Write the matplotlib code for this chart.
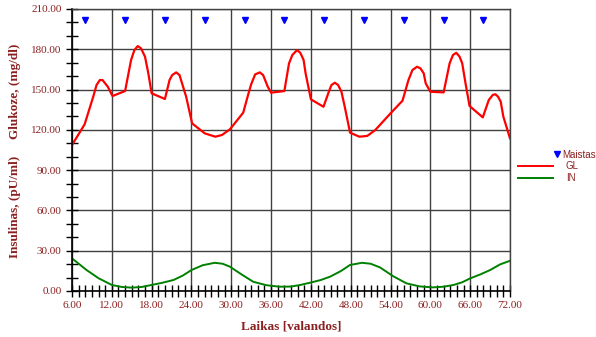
import matplotlib.pyplot as plt
from matplotlib.lines import Line2D
from matplotlib.ticker import MultipleLocator, FormatStrFormatter

# glucose (GL), mg/dl
gl_t = [6.0, 7.9, 9.2, 9.7, 10.2, 10.6, 11.4, 12.1, 14.0, 14.9, 15.4, 15.9,
        16.4, 17.0, 17.5, 18.0, 20.0, 20.7, 21.1, 21.7, 22.2, 23.2, 24.1,
        26.0, 27.6, 28.6, 29.8, 31.8, 32.6, 33.0, 33.6, 34.3, 34.8, 35.5,
        36.0, 38.0, 38.7, 39.2, 39.9, 40.4, 40.9, 41.2, 42.0, 43.9, 44.7,
        45.1, 45.6, 46.1, 46.6, 47.1, 47.9, 49.3, 50.5, 51.7, 54.0, 55.8,
        56.7, 57.3, 58.0, 58.5, 59.0, 59.3, 60.0, 62.0, 62.9, 63.4, 63.9,
        64.4, 64.8, 65.3, 65.9, 67.9, 68.8, 69.4, 69.8, 70.2, 70.6, 71.0,
        72.0]
gl_v = [108.7, 124.1, 144.7, 153.4, 157.1, 157.1, 152.1, 145.2, 148.9, 172.0,
        179.4, 182.4, 180.7, 174.5, 162.1, 147.2, 143.0, 157.1, 160.8, 162.8,
        160.8, 144.7, 124.8, 117.4, 114.9, 116.2, 120.4, 132.8, 147.2, 154.0,
        161.3, 162.8, 160.8, 152.1, 147.7, 148.9, 169.5, 175.7, 179.4, 177.4,
        172.0, 162.1, 142.7, 137.2, 148.4, 153.4, 155.1, 153.4, 148.4, 137.2,
        117.9, 114.9, 115.5, 119.9, 132.3, 141.7, 157.1, 164.6, 167.0, 165.8,
        162.1, 154.6, 148.4, 147.9, 169.5, 175.7, 177.4, 174.5, 169.5, 154.6,
        137.8, 129.3, 142.2, 146.0, 146.5, 144.7, 141.0, 129.8, 113.7]

# insulin (IN), pU/ml
in_t = [6.0, 8.2, 10.0, 12.0, 13.5, 15.0, 16.5, 18.0, 19.5, 21.3, 22.7, 24.0,
        25.7, 27.5, 28.7, 29.8, 31.5, 33.3, 35.3, 37.3, 39.0, 40.4, 41.9, 43.5,
        44.9, 46.5, 47.9, 49.7, 51.0, 52.4, 54.4, 56.4, 58.4, 60.4, 62.0, 63.5,
        64.8, 66.0, 67.5, 69.0, 70.5, 72.0]
in_v = [24.3, 15.6, 9.5, 4.5, 3.0, 2.5, 3.0, 4.5, 6.0, 8.2, 11.5, 15.6,
        19.2, 21.0, 20.3, 18.1, 12.5, 6.9, 4.3, 3.2, 3.3, 4.5, 6.2, 8.2,
        10.7, 14.8, 19.4, 21.0, 20.3, 17.6, 11.0, 5.7, 3.4, 2.7, 3.2, 4.5,
        6.5, 9.4, 12.3, 15.6, 19.8, 22.5]

# meals (Maistas)
meal_t = [8, 14, 20, 26, 32, 38, 44, 50, 56, 62, 68]
meal_v = [202] * len(meal_t)

dark_red = '#8b2020'
grid_col = '#404040'

fig = plt.figure(figsize=(5.96, 3.37), dpi=100)
ax = fig.add_axes([72 / 596, 1 - 291 / 337, 438 / 596, 282 / 337])

ax.plot(gl_t, gl_v, color='#ff0000', lw=1.6)
ax.plot(in_t, in_v, color='#008000', lw=1.4)
ax.plot(meal_t, meal_v, linestyle='none', marker='v', color='#0000ff',
        markersize=5)

ax.set_xlim(6, 72)
ax.set_ylim(0, 210)
ax.xaxis.set_major_locator(MultipleLocator(6))
ax.xaxis.set_minor_locator(MultipleLocator(1))
ax.yaxis.set_major_locator(MultipleLocator(30))
ax.yaxis.set_minor_locator(MultipleLocator(10))
ax.xaxis.set_major_formatter(FormatStrFormatter('%.2f'))
ax.yaxis.set_major_formatter(FormatStrFormatter('%.2f'))

ax.grid(True, which='major', color=grid_col, lw=1)
ax.set_axisbelow(True)
ax.tick_params(which='both', direction='inout', length=8, width=1,
               color='black', labelcolor=dark_red, labelsize=8,
               top=False, right=False)
for lab in ax.get_xticklabels() + ax.get_yticklabels():
    lab.set_family('Liberation Serif')
ax.tick_params(axis='x', pad=3)

for side in ['top', 'right']:
    ax.spines[side].set_color(grid_col)
    ax.spines[side].set_linewidth(1)
for side in ['left', 'bottom']:
    ax.spines[side].set_color('black')
    ax.spines[side].set_linewidth(1.2)

serif = dict(family='Liberation Serif', weight='bold', color=dark_red,
             fontsize=9.5)
ax.set_xlabel('Laikas [valandos]', labelpad=8, **serif)
fig.text(15 / 596, 1 - 91 / 337, 'Glukoze, (mg/dl)', rotation=90,
         ha='center', va='center', **serif)
fig.text(15 / 596, 1 - 207 / 337, 'Insulinas, (pU/ml)', rotation=90,
         ha='center', va='center', **serif)

# legend
sans = dict(family='Liberation Sans', color=dark_red, fontsize=7,
            va='center', ha='left')
fig.add_artist(Line2D([557 / 596], [1 - 154 / 337], marker='v',
                      color='#0000ff', markersize=5, linestyle='none'))
fig.text(562 / 596, 1 - 155 / 337, 'Maistas', **sans)
fig.add_artist(Line2D([518 / 596, 553 / 596], [1 - 166 / 337] * 2,
                      color='#ff0000', lw=1.4))
fig.text(566 / 596, 1 - 166 / 337, 'GL', **sans)
fig.add_artist(Line2D([518 / 596, 553 / 596], [1 - 178 / 337] * 2,
                      color='#008000', lw=1.4))
fig.text(566 / 596, 1 - 178 / 337, 'IN', **sans)

fig.savefig('out.png', dpi=100)
